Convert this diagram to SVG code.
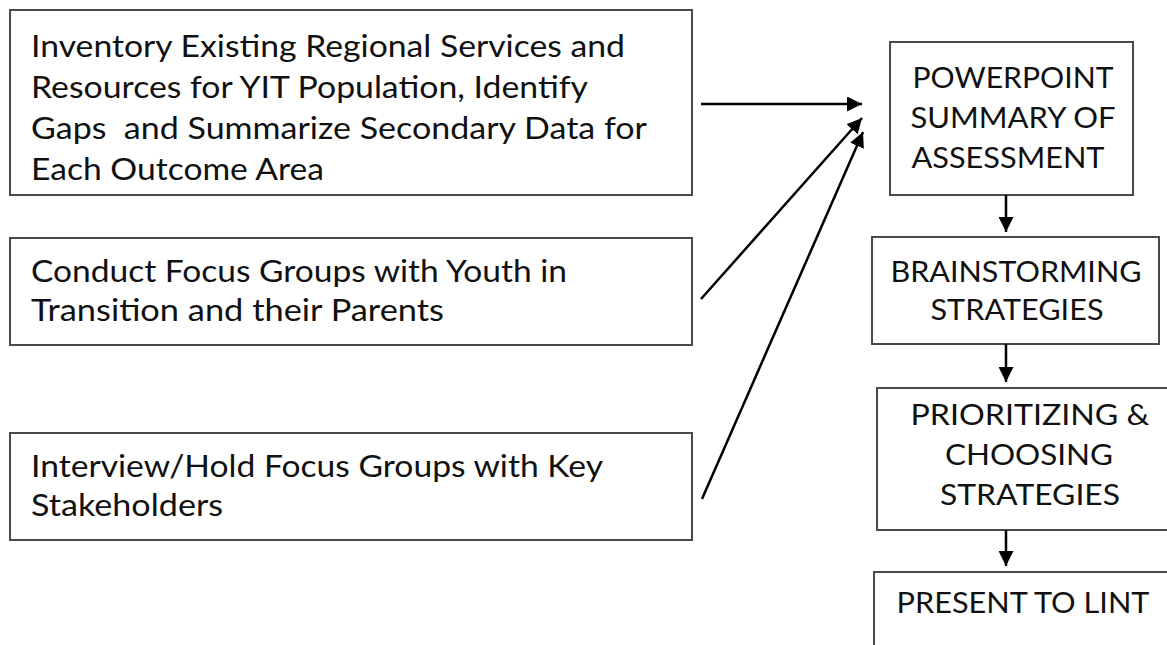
<svg xmlns="http://www.w3.org/2000/svg" width="1167" height="645" viewBox="0 0 1167 645">
  <style>
    .box { fill: #ffffff; stroke: #4a4a4a; stroke-width: 2; }
    .lbl { font-family: Lato, "Open Sans", "Liberation Sans", sans-serif; font-size: 30px; fill: #111111; }
    .cap { font-family: Lato, "Open Sans", "Liberation Sans", sans-serif; font-size: 28px; fill: #111111; text-anchor: middle; }
    .link { stroke: #000000; stroke-width: 2.5; fill: none; marker-end: url(#head); }
  </style>
  <defs>
    <marker id="head" viewBox="0 0 10 10" refX="10" refY="5" markerWidth="6" markerHeight="6" markerUnits="strokeWidth" orient="auto">
      <path d="M0,0 L10,5 L0,10 Z" fill="#000000"/>
    </marker>
  </defs>
  <rect width="1167" height="645" fill="#ffffff"/>

  <!-- input tasks -->
  <g id="inventory">
    <rect class="box" x="10" y="10" width="682" height="185"/>
    <text class="lbl" x="31" y="57" textLength="594" lengthAdjust="spacingAndGlyphs">Inventory Existing Regional Services and</text>
    <text class="lbl" x="31" y="98" textLength="557" lengthAdjust="spacingAndGlyphs">Resources for YIT Population, Identify</text>
    <text class="lbl" x="31" y="139" textLength="616" lengthAdjust="spacingAndGlyphs" xml:space="preserve">Gaps  and Summarize Secondary Data for</text>
    <text class="lbl" x="31" y="180" textLength="293" lengthAdjust="spacingAndGlyphs">Each Outcome Area</text>
  </g>
  <g id="focus-groups">
    <rect class="box" x="10" y="238" width="682" height="107"/>
    <text class="lbl" x="31" y="282" textLength="536" lengthAdjust="spacingAndGlyphs">Conduct Focus Groups with Youth in</text>
    <text class="lbl" x="31" y="321" textLength="413" lengthAdjust="spacingAndGlyphs">Transition and their Parents</text>
  </g>
  <g id="stakeholders">
    <rect class="box" x="10" y="433" width="682" height="107"/>
    <text class="lbl" x="31" y="477" textLength="572" lengthAdjust="spacingAndGlyphs">Interview/Hold Focus Groups with Key</text>
    <text class="lbl" x="31" y="516" textLength="192" lengthAdjust="spacingAndGlyphs">Stakeholders</text>
  </g>

  <!-- process steps -->
  <g id="summary">
    <rect class="box" x="890" y="42" width="243" height="153"/>
    <text class="cap" x="1013" y="88" textLength="201" lengthAdjust="spacingAndGlyphs">POWERPOINT</text>
    <text class="cap" x="1013" y="128" textLength="205" lengthAdjust="spacingAndGlyphs">SUMMARY OF</text>
    <text class="cap" x="1008" y="168" textLength="193" lengthAdjust="spacingAndGlyphs">ASSESSMENT</text>
  </g>
  <g id="brainstorming">
    <rect class="box" x="872" y="237" width="287" height="107"/>
    <text class="cap" x="1016" y="282" textLength="251" lengthAdjust="spacingAndGlyphs">BRAINSTORMING</text>
    <text class="cap" x="1017" y="320" textLength="173" lengthAdjust="spacingAndGlyphs">STRATEGIES</text>
  </g>
  <g id="prioritizing">
    <rect class="box" x="877" y="388" width="310" height="142"/>
    <text class="cap" x="1030" y="425" textLength="239" lengthAdjust="spacingAndGlyphs">PRIORITIZING &amp;</text>
    <text class="cap" x="1029" y="465" textLength="168" lengthAdjust="spacingAndGlyphs">CHOOSING</text>
    <text class="cap" x="1030" y="505" textLength="180" lengthAdjust="spacingAndGlyphs">STRATEGIES</text>
  </g>
  <g id="present">
    <rect class="box" x="874" y="572" width="310" height="100"/>
    <text class="cap" x="1023" y="613" textLength="253" lengthAdjust="spacingAndGlyphs">PRESENT TO LINT</text>
  </g>

  <!-- connectors -->
  <g id="connectors">
    <line class="link" x1="701" y1="104" x2="862" y2="104"/>
    <line class="link" x1="701" y1="299" x2="862" y2="118"/>
    <line class="link" x1="702" y1="499" x2="863" y2="132"/>
    <line class="link" x1="1006" y1="195" x2="1006" y2="232"/>
    <line class="link" x1="1006" y1="344" x2="1006" y2="382"/>
    <line class="link" x1="1006" y1="530" x2="1006" y2="566"/>
  </g>
</svg>
